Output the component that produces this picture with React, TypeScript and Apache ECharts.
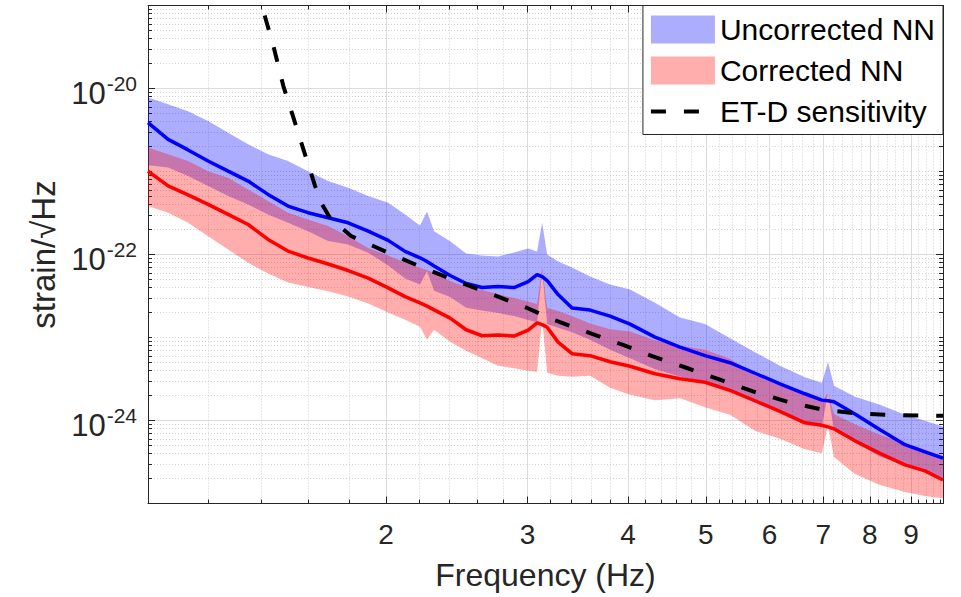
import React, { useEffect, useRef } from 'react';
import * as echarts from 'echarts';

// ---------------- data ----------------
const frequencyHz = [
  1.011, 1.071, 1.134, 1.201, 1.272, 1.347, 1.426, 1.51, 1.599, 1.694,
  1.794, 1.9, 2.012, 2.112, 2.204, 2.249, 2.295, 2.403, 2.516, 2.633,
  2.757, 2.886, 3.005, 3.083, 3.128, 3.173, 3.274, 3.408, 3.588, 3.8,
  4.024, 4.322, 4.643, 4.989, 5.359, 5.756, 6.183, 6.642, 6.973, 7.095,
  7.218, 7.665, 8.236, 8.847, 9.368, 9.865,
];

const uncorrectedMedian = [
  3.89e-21, 2.44e-21, 1.82e-21, 1.34e-21, 1.01e-21, 7.67e-22, 5.3e-22, 3.83e-22, 3.19e-22, 2.77e-22,
  2.41e-22, 1.91e-22, 1.48e-22, 1.09e-22, 9.12e-23, 8.23e-23, 7.26e-23, 5.58e-23, 4.47e-23, 4.0e-23,
  4.11e-23, 4.0e-23, 4.72e-23, 5.74e-23, 5.42e-23, 4.86e-23, 3.29e-23, 2.26e-23, 2.14e-23, 1.81e-23,
  1.45e-23, 1.01e-23, 7.64e-24, 6.04e-24, 4.97e-24, 3.71e-24, 2.77e-24, 2.1e-24, 1.76e-24, 1.73e-24,
  1.68e-24, 1.2e-24, 7.72e-25, 5.12e-25, 4.19e-25, 3.52e-25,
];
const uncorrectedUpper = [
  7.78e-21, 6.46e-21, 5.32e-21, 4.06e-21, 2.94e-21, 2.13e-21, 1.61e-21, 1.34e-21, 1.01e-21, 7.67e-22,
  6.38e-22, 5.06e-22, 4.21e-22, 3.04e-22, 2.24e-22, 3.3e-22, 1.9e-22, 1.44e-22, 1.03e-22, 9.73e-23,
  9.46e-23, 1.06e-22, 1.18e-22, 1.09e-22, 2.43e-22, 1.0e-22, 8.23e-23, 6.97e-23, 5.42e-23, 4.35e-23,
  3.78e-23, 2.63e-23, 1.74e-23, 1.45e-23, 9.82e-24, 6.65e-24, 4.57e-24, 3.32e-24, 2.85e-24, 5.11e-24,
  2.62e-24, 1.93e-24, 1.55e-24, 1.17e-24, 9.92e-25, 8.47e-25,
];
const uncorrectedLower = [
  1.19e-21, 1.12e-21, 8.81e-22, 6.67e-22, 5.06e-22, 4.01e-22, 3.04e-22, 2.41e-22, 1.91e-22, 1.45e-22,
  1.32e-22, 1.05e-22, 7.37e-23, 5.13e-23, 4.35e-23, 6.29e-23, 3.67e-23, 3.07e-23, 2.29e-23, 2.11e-23,
  1.97e-23, 1.81e-23, 1.62e-23, 1.53e-23, 6.24e-23, 1.45e-23, 1.31e-23, 1.16e-23, 9.42e-24, 7.13e-24,
  5.63e-24, 4.15e-24, 3.4e-24, 2.96e-24, 2.24e-24, 1.64e-24, 1.23e-24, 9.25e-25, 8.63e-25, 2.14e-24,
  7.51e-25, 5.46e-25, 3.67e-25, 2.92e-25, 2.44e-25, 1.98e-25,
];

const correctedMedian = [
  1.01e-21, 6.71e-22, 5.22e-22, 4.01e-22, 3.04e-22, 2.3e-22, 1.52e-22, 1.1e-22, 9.08e-23, 7.68e-23,
  6.41e-23, 5.2e-23, 3.96e-23, 3.11e-23, 2.61e-23, 2.39e-23, 2.15e-23, 1.71e-23, 1.24e-23, 1.05e-23,
  1.07e-23, 1.04e-23, 1.23e-23, 1.5e-23, 1.43e-23, 1.33e-23, 8.79e-24, 6.38e-24, 6.04e-24, 5.11e-24,
  4.51e-24, 3.66e-24, 3.19e-24, 2.89e-24, 2.31e-24, 1.73e-24, 1.29e-24, 9.38e-25, 8.75e-25, 8.39e-25,
  7.94e-25, 5.69e-25, 4.02e-25, 2.92e-25, 2.47e-25, 1.92e-25,
];
const correctedUpper = [
  1.94e-21, 1.61e-21, 1.34e-21, 1.01e-21, 8.43e-22, 6.09e-22, 4.4e-22, 3.19e-22, 2.64e-22, 2.2e-22,
  1.66e-22, 1.2e-22, 9.73e-23, 8.0e-23, 6.91e-23, 6.5e-23, 5.98e-23, 4.79e-23, 4.05e-23, 3.73e-23,
  3.33e-23, 2.99e-23, 2.71e-23, 2.53e-23, 6.97e-23, 2.29e-23, 2.08e-23, 1.81e-23, 1.47e-23, 1.26e-23,
  1.18e-23, 9.29e-24, 7.97e-24, 7.13e-24, 5.56e-24, 3.51e-24, 2.62e-24, 2.1e-24, 1.68e-24, 2.14e-24,
  1.2e-24, 8.99e-25, 6.72e-25, 5.31e-25, 4.43e-25, 3.67e-25,
];
const correctedLower = [
  3.83e-22, 3.19e-22, 2.41e-22, 1.66e-22, 1.15e-22, 7.94e-23, 5.9e-23, 4.59e-23, 4.05e-23, 3.62e-23,
  3.11e-23, 2.56e-23, 2.0e-23, 1.64e-23, 1.35e-23, 9.42e-24, 1.24e-23, 8.91e-24, 6.94e-24, 5.63e-24,
  4.57e-24, 4.27e-24, 3.98e-24, 3.87e-24, 1.64e-23, 3.77e-24, 3.46e-24, 3.37e-24, 3.46e-24, 2.48e-24,
  2.04e-24, 1.75e-24, 1.86e-24, 1.44e-24, 1.17e-24, 7.51e-25, 6.01e-25, 4.49e-25, 4.04e-25, 8.87e-25,
  3.64e-25, 2.27e-25, 1.67e-25, 1.38e-25, 1.23e-25, 1.16e-25,
];

const etdFrequencyHz = [
  1.374, 1.401, 1.448, 1.49, 1.533, 1.581, 1.632, 1.665, 1.703, 1.809,
  2.012, 2.224, 2.452, 2.694, 2.996, 3.228, 3.588, 3.99, 4.297, 4.737,
  5.207, 5.723, 6.309, 6.934, 7.621, 8.403, 9.236, 9.865,
];
const etdSensitivity = [
  1.82e-19, 9.93e-20, 3.27e-20, 1.07e-20, 4.51e-21, 1.75e-21, 6.67e-22, 4.01e-22, 2.76e-22, 1.67e-22,
  1.05e-22, 6.91e-23, 4.76e-23, 3.38e-23, 2.27e-23, 1.64e-23, 1.13e-23, 7.82e-24, 5.92e-24, 4.29e-24,
  3.1e-24, 2.24e-24, 1.69e-24, 1.37e-24, 1.23e-24, 1.17e-24, 1.15e-24, 1.14e-24,
];

const xTickLabels = [2, 3, 4, 5, 6, 7, 8, 9];
const yTickExponents = [-24, -22, -20];
const xLimitsHz = [1.011, 9.865];
const yLimitsExp = [-25, -19];

const legendNames = ['Uncorrected NN', 'Corrected NN', 'ET-D sensitivity'];

// ---------------- styling ----------------
const AXIS_COLOR = '#262626';
const FONT = "'Liberation Sans', Arial, Helvetica, sans-serif";
const BLUE_FILL = 'rgba(0,0,255,0.32)';
const RED_FILL = 'rgba(255,0,0,0.32)';
const MAJOR_GRID = '#dcdcdc';
const MINOR_GRID = '#d2d2d2';
const DASH = [15, 18];

const lg = Math.log10;

function buildOption() {
  const xMin = lg(xLimitsHz[0]);
  const xMax = lg(xLimitsHz[1]);
  const xMajor = xTickLabels.map(lg);
  const xMinor: number[] = [];
  for (let d = 1; d <= 9; d++) for (let k = 1; k <= 4; k++) xMinor.push(lg(d + 0.2 * k));
  const yMajor = yTickExponents;
  const yMinor: number[] = [];
  for (let n = yLimitsExp[0]; n < yLimitsExp[1]; n++) {
    if (n !== yLimitsExp[0] && !yMajor.includes(n)) yMinor.push(n);
    for (let k = 2; k <= 9; k++) yMinor.push(n + lg(k));
  }

  const baseX = { type: 'value', min: xMin, max: xMax, gridIndex: 0 };
  const baseY = { type: 'value', min: yLimitsExp[0], max: yLimitsExp[1], gridIndex: 0 };
  const frameLine = { show: true, onZero: false, lineStyle: { color: AXIS_COLOR, width: 1 } };
  const noLine = { show: false, onZero: false };
  const majorTick = (vals: number[]) => ({
    show: true, inside: true, length: 7, customValues: vals,
    lineStyle: { color: AXIS_COLOR, width: 1 },
  });
  const minorTick = (vals: number[]) => ({
    show: true, inside: true, length: 4, customValues: vals,
    lineStyle: { color: AXIS_COLOR, width: 1 },
  });

  const xAxis = [
    {
      ...baseX, position: 'bottom',
      name: 'Frequency (Hz)', nameLocation: 'middle', nameGap: 55,
      nameTextStyle: { fontSize: 32, color: AXIS_COLOR, fontFamily: FONT },
      axisLine: frameLine,
      axisTick: majorTick(xMajor),
      axisLabel: {
        show: true, customValues: xMajor, margin: 17,
        formatter: (v: number) => String(Math.round(Math.pow(10, v))),
        fontSize: 28, color: AXIS_COLOR, fontFamily: FONT,
      },
      splitLine: { show: true, lineStyle: { color: MAJOR_GRID, width: 1 } },
    },
    { ...baseX, position: 'top', axisLine: frameLine, axisTick: majorTick(xMajor), axisLabel: { show: false }, splitLine: { show: false } },
    {
      ...baseX, position: 'bottom', axisLine: noLine, axisTick: minorTick(xMinor), axisLabel: { show: false },
      splitLine: { show: true, lineStyle: { color: MINOR_GRID, width: 1, type: [1, 2] } },
    },
    { ...baseX, position: 'top', axisLine: noLine, axisTick: minorTick(xMinor), axisLabel: { show: false }, splitLine: { show: false } },
  ];

  const yAxis = [
    {
      ...baseY, position: 'left',
      name: 'strain/\u221AHz', nameLocation: 'middle', nameGap: 86,
      nameTextStyle: { fontSize: 33, color: AXIS_COLOR, fontFamily: FONT },
      axisLine: frameLine,
      axisTick: majorTick(yMajor),
      axisLabel: {
        show: true, customValues: yMajor, margin: 11,
        formatter: (v: number) => `{b|10}{s|${Math.round(v)}}`,
        rich: {
          b: { fontSize: 31, lineHeight: 31, padding: [9, 0, 0, 0], color: AXIS_COLOR, fontFamily: FONT },
          s: { fontSize: 21, lineHeight: 21, verticalAlign: 'top', padding: [0, 0, 0, 1], color: AXIS_COLOR, fontFamily: FONT },
        },
      },
      splitLine: { show: true, lineStyle: { color: MAJOR_GRID, width: 1 } },
    },
    { ...baseY, position: 'right', axisLine: frameLine, axisTick: majorTick(yMajor), axisLabel: { show: false }, splitLine: { show: false } },
    {
      ...baseY, position: 'left', axisLine: noLine, axisTick: minorTick(yMinor), axisLabel: { show: false },
      splitLine: { show: true, lineStyle: { color: MINOR_GRID, width: 1, type: [1, 2] } },
    },
    { ...baseY, position: 'right', axisLine: noLine, axisTick: minorTick(yMinor), axisLabel: { show: false }, splitLine: { show: false } },
  ];

  const band = (name: string, lower: number[], upper: number[], color: string) => {
    const lo = frequencyHz.map((f, i) => [lg(f), lg(lower[i])]);
    const up = frequencyHz.map((f, i) => [lg(f), lg(upper[i])]);
    return {
      type: 'custom', name, coordinateSystem: 'cartesian2d', xAxisIndex: 0, yAxisIndex: 0,
      clip: true, silent: true, z: 2,
      itemStyle: { color },
      data: frequencyHz.map((f, i) => [lg(f), lg(lower[i]), lg(upper[i])]),
      encode: { x: 0, y: [1, 2] },
      renderItem: (params: any, api: any) => {
        if (params.dataIndex !== 0) return null;
        const pts = up.map((p) => api.coord(p)).concat(lo.slice().reverse().map((p) => api.coord(p)));
        return { type: 'polygon', shape: { points: pts }, style: { fill: color, stroke: null } };
      },
    };
  };

  const line = (name: string, fs: number[], vals: number[], lineStyle: any) => ({
    type: 'line', name, xAxisIndex: 0, yAxisIndex: 0, symbol: 'none', silent: true, z: 3,
    clip: true,
    data: fs.map((f, i) => [lg(f), lg(vals[i])]),
    lineStyle, itemStyle: { color: lineStyle.color },
  });

  return {
    animation: false,
    backgroundColor: '#ffffff',
    textStyle: { fontFamily: FONT },
    grid: { left: 148, right: 18, top: 5.5, bottom: 93.5, containLabel: false },
    xAxis, yAxis,
    legend: {
      orient: 'vertical', right: 18, top: 5.5,
      backgroundColor: '#ffffff', borderColor: AXIS_COLOR, borderWidth: 1, borderRadius: 0,
      padding: [9, 8, 8, 6], itemWidth: 64, itemHeight: 28, itemGap: 11,
      selectedMode: false,
      textStyle: { fontSize: 30, color: '#000000', fontFamily: FONT },
      data: [
        { name: legendNames[0], icon: 'rect', itemStyle: { color: BLUE_FILL } },
        { name: legendNames[1], icon: 'rect', itemStyle: { color: RED_FILL } },
        {
          name: legendNames[2],
          itemStyle: { color: 'rgba(0,0,0,0)', borderWidth: 0, opacity: 0 },
          lineStyle: { color: '#000000', width: 4, type: DASH, opacity: 1 },
        },
      ],
    },
    series: [
      band(legendNames[0], uncorrectedLower, uncorrectedUpper, BLUE_FILL),
      band(legendNames[1], correctedLower, correctedUpper, RED_FILL),
      line('Uncorrected NN median', frequencyHz, uncorrectedMedian, { color: '#0000ff', width: 3.5 }),
      line('Corrected NN median', frequencyHz, correctedMedian, { color: '#ff0000', width: 3.5 }),
      line(legendNames[2], etdFrequencyHz, etdSensitivity, { color: '#000000', width: 4, type: DASH }),
    ],
  };
}

export default function App() {
  const ref = useRef<HTMLDivElement>(null);
  useEffect(() => {
    if (!ref.current) return;
    const chart = echarts.init(ref.current, undefined, { renderer: 'svg' });
    chart.setOption(buildOption() as any);
    return () => chart.dispose();
  }, []);
  return (
    <div
      ref={ref}
      style={{ position: 'fixed', left: 0, top: 0, width: 961, height: 597, background: '#fff' }}
    />
  );
}
